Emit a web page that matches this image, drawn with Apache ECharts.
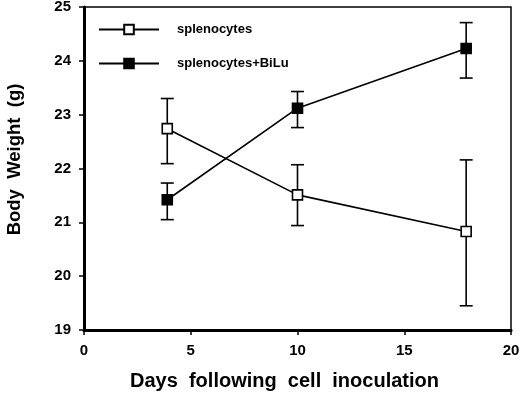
<!DOCTYPE html>
<html>
<head>
<meta charset="utf-8">
<script src="https://cdn.jsdelivr.net/npm/echarts@6/dist/echarts.min.js"></script>
<style>
  html, body { margin: 0; padding: 0; background: #fff; }
  #chart { width: 520px; height: 394px; }
</style>
</head>
<body>
<div id="chart"></div>
<script>
// days after inoculation
const days = [3.9, 10, 17.9]
// splenocytes alone
const splenoMean = [22.74, 21.51, 20.83]
const splenoLow = [22.09, 20.94, 19.45]
const splenoHigh = [23.30, 22.07, 22.16]
// splenocytes + BiLu
const biluMean = [21.42, 23.12, 24.23]
const biluLow = [21.05, 22.76, 23.68]
const biluHigh = [21.73, 23.43, 24.71]

const font = 'Liberation Sans, Arial, sans-serif'

function errorSeries(low, high) {
  return {
    type: 'custom',
    z: 1,
    silent: true,
    data: days.map((d, i) => [d, low[i], high[i]]),
    renderItem(params, api) {
      const lo = api.coord([api.value(0), api.value(1)])
      const hi = api.coord([api.value(0), api.value(2)])
      const w = 6.5
      const style = { stroke: '#000', lineWidth: 1.6 }
      return {
        type: 'group',
        children: [
          { type: 'line', shape: { x1: lo[0], y1: lo[1], x2: hi[0], y2: hi[1] }, style },
          { type: 'line', shape: { x1: lo[0] - w, y1: lo[1], x2: lo[0] + w, y2: lo[1] }, style },
          { type: 'line', shape: { x1: hi[0] - w, y1: hi[1], x2: hi[0] + w, y2: hi[1] }, style }
        ]
      }
    }
  }
}

const chart = echarts.init(document.getElementById('chart'), null, { renderer: 'canvas' })
chart.setOption({
  animation: false,
  backgroundColor: '#fff',
  grid: {
    left: 84, right: 9, top: 7, bottom: 64,
    outerBoundsMode: 'none',
    show: true, borderColor: '#000', borderWidth: 1.5
  },
  legend: {
    orient: 'vertical',
    left: 93, top: 18,
    itemWidth: 60, itemHeight: 12,
    itemGap: 21,
    data: ['splenocytes', 'splenocytes+BiLu'],
    textStyle: { fontFamily: font, fontWeight: 'bold', fontSize: 13, color: '#000', padding: [0, 0, 0, 13] }
  },
  xAxis: {
    type: 'value', min: 0, max: 20, interval: 5,
    axisLine: { lineStyle: { color: '#000', width: 3 } },
    axisTick: { show: true, length: 5, lineStyle: { color: '#000', width: 1.5 } },
    axisLabel: { fontFamily: font, fontWeight: 'bold', fontSize: 15, color: '#000', margin: 13 },
    splitLine: { show: false },
    name: 'Days  following  cell  inoculation',
    nameLocation: 'middle', nameGap: 41,
    nameTextStyle: { fontFamily: font, fontWeight: 'bold', fontSize: 20, color: '#000', padding: [0, 26, 0, 0] }
  },
  yAxis: {
    type: 'value', min: 19, max: 25, interval: 1,
    axisLine: { lineStyle: { color: '#000', width: 3 } },
    axisTick: { show: true, length: 5, lineStyle: { color: '#000', width: 1.5 } },
    axisLabel: { fontFamily: font, fontWeight: 'bold', fontSize: 15, color: '#000', margin: 13 },
    splitLine: { show: false },
    name: 'Body  Weight  (g)',
    nameLocation: 'middle', nameGap: 60, nameRotate: 90,
    nameTextStyle: { fontFamily: font, fontWeight: 'bold', fontSize: 18.5, color: '#000', padding: [0, 0, 0, 18] }
  },
  series: [
    errorSeries(splenoLow, splenoHigh),
    errorSeries(biluLow, biluHigh),
    {
      name: 'splenocytes', type: 'line', z: 3,
      data: days.map((d, i) => [d, splenoMean[i]]),
      symbol: 'rect', symbolSize: 10,
      lineStyle: { color: '#000', width: 1.6 },
      itemStyle: { color: '#fff', borderColor: '#000', borderWidth: 1.6 }
    },
    {
      name: 'splenocytes+BiLu', type: 'line', z: 3,
      data: days.map((d, i) => [d, biluMean[i]]),
      symbol: 'rect', symbolSize: 10,
      lineStyle: { color: '#000', width: 1.6 },
      itemStyle: { color: '#000', borderColor: '#000', borderWidth: 1.6 }
    }
  ]
})
</script>
</body>
</html>
